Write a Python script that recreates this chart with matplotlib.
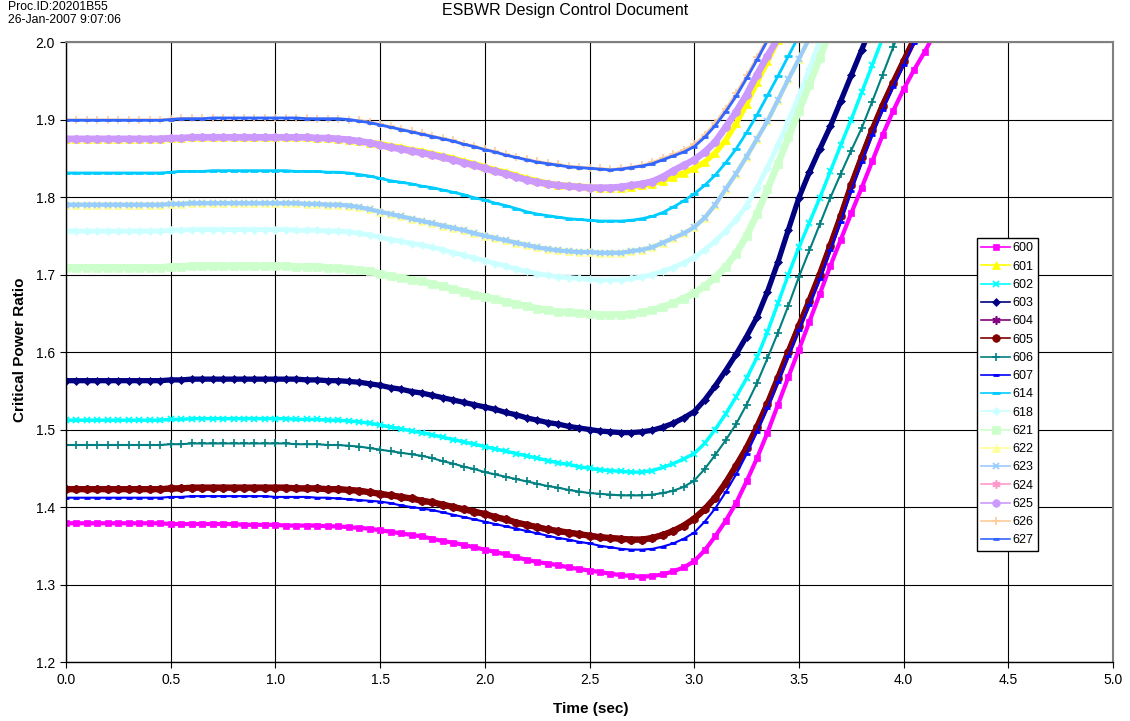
import numpy as np
import matplotlib
matplotlib.use("Agg")
import matplotlib.pyplot as plt
from matplotlib.lines import Line2D

plt.rcParams['font.family'] = ['Liberation Sans', 'DejaVu Sans']

# sample time, sec (one point every 0.05 s)
time_s = np.round(np.arange(0.0, 4.16, 0.05), 2)

# critical power ratio per case, rows of 10 samples (0.0-0.45, 0.5-0.95, ...)
cpr600 = [1.379, 1.379, 1.379, 1.379, 1.379, 1.379, 1.379, 1.379, 1.379, 1.379,
          1.378, 1.378, 1.378, 1.378, 1.378, 1.378, 1.378, 1.377, 1.377, 1.377,
          1.377, 1.376, 1.376, 1.376, 1.376, 1.375, 1.375, 1.374, 1.373, 1.372,
          1.370, 1.368, 1.366, 1.364, 1.362, 1.359, 1.356, 1.354, 1.351, 1.348,
          1.345, 1.342, 1.339, 1.335, 1.332, 1.329, 1.327, 1.325, 1.322, 1.320,
          1.318, 1.316, 1.314, 1.312, 1.311, 1.310, 1.311, 1.313, 1.317, 1.322,
          1.330, 1.344, 1.362, 1.382, 1.405, 1.433, 1.463, 1.496, 1.532, 1.568,
          1.603, 1.639, 1.675, 1.711, 1.745, 1.779, 1.812, 1.846, 1.880, 1.911,
          1.939, 1.964, 1.987, 2.012]
cpr601 = [1.875, 1.875, 1.875, 1.875, 1.875, 1.875, 1.875, 1.875, 1.875, 1.875,
          1.876, 1.876, 1.877, 1.877, 1.877, 1.877, 1.877, 1.877, 1.877, 1.877,
          1.877, 1.877, 1.877, 1.877, 1.876, 1.876, 1.875, 1.874, 1.872, 1.870,
          1.869, 1.866, 1.864, 1.861, 1.859, 1.856, 1.853, 1.850, 1.846, 1.843,
          1.839, 1.835, 1.832, 1.828, 1.824, 1.821, 1.818, 1.816, 1.815, 1.814,
          1.813, 1.812, 1.812, 1.812, 1.813, 1.815, 1.817, 1.821, 1.826, 1.831,
          1.837, 1.845, 1.857, 1.873, 1.895, 1.920, 1.948, 1.975, 2.003]
cpr602 = [1.512, 1.512, 1.512, 1.512, 1.512, 1.512, 1.512, 1.512, 1.512, 1.512,
          1.513, 1.513, 1.514, 1.514, 1.514, 1.514, 1.514, 1.514, 1.514, 1.514,
          1.514, 1.514, 1.513, 1.513, 1.513, 1.512, 1.512, 1.511, 1.510, 1.508,
          1.506, 1.503, 1.501, 1.498, 1.496, 1.493, 1.490, 1.487, 1.484, 1.481,
          1.478, 1.475, 1.472, 1.469, 1.466, 1.463, 1.460, 1.457, 1.455, 1.452,
          1.450, 1.448, 1.447, 1.446, 1.445, 1.445, 1.447, 1.451, 1.456, 1.462,
          1.469, 1.482, 1.500, 1.520, 1.542, 1.566, 1.593, 1.626, 1.663, 1.700,
          1.735, 1.767, 1.799, 1.833, 1.867, 1.900, 1.935, 1.970,
          2.005]
cpr603 = [1.563, 1.563, 1.563, 1.563, 1.563, 1.563, 1.563, 1.563, 1.563, 1.563,
          1.564, 1.564, 1.565, 1.565, 1.565, 1.565, 1.565, 1.565, 1.565, 1.565,
          1.565, 1.565, 1.565, 1.564, 1.564, 1.563, 1.563, 1.562, 1.561, 1.559,
          1.557, 1.554, 1.552, 1.549, 1.547, 1.544, 1.541, 1.538, 1.535, 1.532,
          1.529, 1.526, 1.522, 1.519, 1.515, 1.512, 1.509, 1.507, 1.504, 1.502,
          1.500, 1.498, 1.497, 1.496, 1.496, 1.497, 1.499, 1.503, 1.508, 1.515,
          1.523, 1.538, 1.556, 1.576, 1.597, 1.620, 1.645, 1.678, 1.716, 1.758,
          1.799, 1.832, 1.862, 1.891, 1.924, 1.957, 1.990, 2.023]
cpr605 = [1.423, 1.423, 1.423, 1.423, 1.423, 1.423, 1.423, 1.423, 1.423, 1.423,
          1.424, 1.424, 1.425, 1.425, 1.425, 1.425, 1.425, 1.425, 1.425, 1.425,
          1.425, 1.425, 1.424, 1.424, 1.424, 1.423, 1.423, 1.422, 1.421, 1.419,
          1.417, 1.415, 1.413, 1.411, 1.408, 1.406, 1.403, 1.400, 1.397, 1.394,
          1.391, 1.387, 1.384, 1.380, 1.377, 1.374, 1.371, 1.369, 1.367, 1.365,
          1.363, 1.361, 1.360, 1.359, 1.358, 1.358, 1.360, 1.364, 1.369, 1.376,
          1.385, 1.397, 1.412, 1.431, 1.453, 1.476, 1.503, 1.533, 1.566, 1.600,
          1.633, 1.666, 1.700, 1.737, 1.775, 1.815, 1.851, 1.886, 1.918, 1.947,
          1.975, 2.003]
cpr604 = list(cpr605)
cpr606 = [1.480, 1.480, 1.480, 1.480, 1.480, 1.480, 1.480, 1.480, 1.480, 1.480,
          1.481, 1.481, 1.482, 1.482, 1.482, 1.482, 1.482, 1.482, 1.482, 1.482,
          1.482, 1.482, 1.481, 1.481, 1.481, 1.480, 1.480, 1.479, 1.478, 1.476,
          1.474, 1.472, 1.470, 1.468, 1.466, 1.463, 1.459, 1.456, 1.452, 1.449,
          1.445, 1.442, 1.439, 1.436, 1.433, 1.430, 1.427, 1.425, 1.422, 1.420,
          1.418, 1.417, 1.416, 1.415, 1.415, 1.415, 1.416, 1.418, 1.421, 1.426,
          1.434, 1.449, 1.467, 1.486, 1.507, 1.532, 1.560, 1.592, 1.625, 1.660,
          1.697, 1.731, 1.765, 1.799, 1.830, 1.860, 1.889, 1.923, 1.958, 1.993,
          2.028]
cpr607 = [1.412, 1.412, 1.412, 1.412, 1.412, 1.412, 1.412, 1.412, 1.412, 1.412,
          1.413, 1.413, 1.414, 1.414, 1.414, 1.414, 1.414, 1.414, 1.414, 1.414,
          1.413, 1.413, 1.413, 1.413, 1.412, 1.412, 1.411, 1.410, 1.409, 1.408,
          1.407, 1.405, 1.402, 1.400, 1.398, 1.396, 1.393, 1.390, 1.387, 1.384,
          1.381, 1.378, 1.375, 1.372, 1.369, 1.366, 1.363, 1.360, 1.358, 1.355,
          1.353, 1.350, 1.348, 1.346, 1.345, 1.345, 1.346, 1.349, 1.353, 1.359,
          1.367, 1.381, 1.398, 1.419, 1.442, 1.468, 1.497, 1.528, 1.561, 1.595,
          1.628, 1.661, 1.694, 1.731, 1.768, 1.808, 1.845, 1.880, 1.912, 1.942,
          1.970, 1.999, 2.028]
cpr614 = [1.831, 1.831, 1.831, 1.831, 1.831, 1.831, 1.831, 1.831, 1.831, 1.831,
          1.832, 1.833, 1.833, 1.833, 1.834, 1.834, 1.834, 1.834, 1.834, 1.834,
          1.834, 1.834, 1.833, 1.833, 1.833, 1.832, 1.832, 1.831, 1.829, 1.827,
          1.824, 1.821, 1.819, 1.817, 1.814, 1.812, 1.809, 1.806, 1.803, 1.799,
          1.796, 1.792, 1.789, 1.785, 1.781, 1.778, 1.776, 1.774, 1.772, 1.771,
          1.770, 1.769, 1.769, 1.769, 1.770, 1.772, 1.775, 1.780, 1.787, 1.795,
          1.804, 1.815, 1.828, 1.844, 1.862, 1.883, 1.906, 1.931, 1.956, 1.982,
          2.008]
cpr618 = [1.756, 1.756, 1.756, 1.756, 1.756, 1.756, 1.756, 1.756, 1.756, 1.756,
          1.757, 1.757, 1.758, 1.758, 1.758, 1.758, 1.758, 1.758, 1.758, 1.758,
          1.758, 1.758, 1.757, 1.757, 1.757, 1.756, 1.756, 1.755, 1.753, 1.751,
          1.748, 1.745, 1.743, 1.740, 1.738, 1.735, 1.732, 1.728, 1.725, 1.721,
          1.718, 1.714, 1.711, 1.707, 1.704, 1.701, 1.699, 1.697, 1.696, 1.695,
          1.694, 1.693, 1.693, 1.693, 1.695, 1.697, 1.700, 1.704, 1.709, 1.715,
          1.722, 1.732, 1.743, 1.756, 1.771, 1.789, 1.812, 1.838, 1.867, 1.898,
          1.930, 1.965, 2.002]
cpr621 = [1.709, 1.709, 1.709, 1.709, 1.709, 1.709, 1.709, 1.709, 1.709, 1.709,
          1.710, 1.710, 1.711, 1.711, 1.711, 1.711, 1.711, 1.711, 1.711, 1.711,
          1.711, 1.711, 1.710, 1.710, 1.710, 1.709, 1.708, 1.707, 1.706, 1.704,
          1.701, 1.698, 1.696, 1.693, 1.691, 1.688, 1.685, 1.681, 1.678, 1.674,
          1.671, 1.668, 1.665, 1.662, 1.659, 1.656, 1.654, 1.652, 1.651, 1.650,
          1.649, 1.648, 1.648, 1.648, 1.649, 1.651, 1.654, 1.658, 1.663, 1.669,
          1.676, 1.685, 1.696, 1.710, 1.727, 1.750, 1.778, 1.810, 1.843, 1.877,
          1.911, 1.945, 1.980, 2.015]
cpr623 = [1.790, 1.790, 1.790, 1.790, 1.790, 1.790, 1.790, 1.790, 1.790, 1.790,
          1.791, 1.791, 1.792, 1.792, 1.792, 1.792, 1.792, 1.792, 1.792, 1.792,
          1.792, 1.792, 1.792, 1.791, 1.791, 1.790, 1.790, 1.789, 1.787, 1.784,
          1.781, 1.778, 1.775, 1.772, 1.769, 1.766, 1.763, 1.760, 1.757, 1.753,
          1.750, 1.747, 1.744, 1.741, 1.738, 1.735, 1.733, 1.731, 1.730, 1.729,
          1.729, 1.728, 1.728, 1.728, 1.730, 1.732, 1.735, 1.741, 1.747, 1.753,
          1.761, 1.773, 1.790, 1.810, 1.830, 1.852, 1.875, 1.898, 1.925, 1.952,
          1.978, 2.005]
cpr622 = list(cpr623)
cpr625 = [1.875, 1.875, 1.875, 1.875, 1.875, 1.875, 1.875, 1.875, 1.875, 1.875,
          1.876, 1.876, 1.877, 1.877, 1.877, 1.877, 1.877, 1.877, 1.877, 1.877,
          1.877, 1.877, 1.877, 1.877, 1.876, 1.876, 1.875, 1.874, 1.872, 1.870,
          1.867, 1.864, 1.862, 1.859, 1.857, 1.854, 1.851, 1.848, 1.844, 1.841,
          1.837, 1.833, 1.830, 1.826, 1.822, 1.819, 1.817, 1.815, 1.814, 1.813,
          1.812, 1.812, 1.812, 1.813, 1.815, 1.817, 1.820, 1.826, 1.834, 1.841,
          1.848, 1.858, 1.871, 1.890, 1.910, 1.932, 1.958, 1.982, 2.005]
cpr624 = list(cpr625)
cpr627 = [1.899, 1.899, 1.899, 1.899, 1.899, 1.899, 1.899, 1.899, 1.899, 1.899,
          1.900, 1.901, 1.901, 1.901, 1.902, 1.902, 1.902, 1.902, 1.902, 1.902,
          1.902, 1.902, 1.902, 1.901, 1.901, 1.901, 1.901, 1.900, 1.898, 1.896,
          1.893, 1.890, 1.887, 1.884, 1.881, 1.878, 1.875, 1.872, 1.868, 1.865,
          1.861, 1.858, 1.854, 1.851, 1.848, 1.845, 1.843, 1.841, 1.839, 1.838,
          1.837, 1.836, 1.835, 1.836, 1.838, 1.840, 1.843, 1.848, 1.853, 1.858,
          1.865, 1.877, 1.892, 1.910, 1.930, 1.953, 1.977, 2.002, 2.030]
cpr626 = [1.900, 1.900, 1.900, 1.900, 1.900, 1.900, 1.900, 1.900, 1.900, 1.900,
          1.901, 1.902, 1.902, 1.902, 1.902, 1.902, 1.902, 1.902, 1.902, 1.902,
          1.902, 1.902, 1.902, 1.902, 1.901, 1.901, 1.901, 1.900, 1.899, 1.897,
          1.894, 1.891, 1.888, 1.885, 1.882, 1.879, 1.876, 1.873, 1.869, 1.866,
          1.862, 1.859, 1.855, 1.852, 1.849, 1.846, 1.844, 1.842, 1.840, 1.839,
          1.838, 1.837, 1.836, 1.837, 1.839, 1.841, 1.845, 1.850, 1.855, 1.861,
          1.868, 1.880, 1.896, 1.914, 1.934, 1.957, 1.981, 2.006, 2.034]

case_names = ["600", "601", "602", "603", "604", "605", "606", "607", "614",
              "618", "621", "622", "623", "624", "625", "626", "627"]
case_data = [cpr600, cpr601, cpr602, cpr603, cpr604, cpr605, cpr606, cpr607, cpr614,
             cpr618, cpr621, cpr622, cpr623, cpr624, cpr625, cpr626, cpr627]

asterisk = (6, 2, 0)
# color, marker, marker size, marker edge width, width of the marker band
styles = {
    "600": ("#FF00FF", "s", 3.8, 0.5, 3.0),
    "601": ("#FFFF00", "^", 5.5, 0.5, 4.0),
    "602": ("#00FFFF", "x", 5.0, 1.3, 2.5),
    "603": ("#000080", "D", 4.2, 0.5, 3.8),
    "604": ("#800080", asterisk, 6.0, 1.2, 4.0),
    "605": ("#800000", "o", 5.5, 0.5, 4.5),
    "606": ("#008080", "+", 6.0, 1.2, 1.5),
    "607": ("#0000FF", "_", 4.0, 2.0, 1.5),
    "614": ("#00CCFF", "_", 5.5, 2.0, 2.0),
    "618": ("#CCFFFF", "D", 4.5, 0.5, 3.5),
    "621": ("#CCFFCC", "s", 5.5, 0.5, 5.0),
    "622": ("#FFFF99", "^", 5.5, 0.5, 3.5),
    "623": ("#99CCFF", "x", 5.0, 1.3, 3.0),
    "624": ("#FF99CC", asterisk, 6.0, 1.2, 4.0),
    "625": ("#CC99FF", "o", 5.5, 0.5, 4.8),
    "626": ("#FFCC99", "+", 6.0, 1.2, 1.5),
    "627": ("#3366FF", "_", 4.0, 2.0, 2.0),
}

fig = plt.figure(figsize=(11.3, 7.21), dpi=100)
ax = fig.add_axes([66 / 1130, 1 - 662 / 721, 1047 / 1130, 620 / 721])

handles = []
for name, vals in zip(case_names, case_data):
    color, marker, ms, mew, band = styles[name]
    tt = time_s[:len(vals)]
    ax.plot(tt, vals, color=color, lw=band, marker=marker, ms=ms, mew=mew,
            mfc=color, mec=color, solid_joinstyle='round')
    handles.append(Line2D([], [], color=color, lw=1.2, marker=marker, ms=ms,
                          mew=mew, mfc=color, mec=color, label=name))

ax.set_xlim(0, 5)
ax.set_ylim(1.2, 2.0)
ax.set_xticks(np.arange(0, 5.01, 0.5))
ax.set_yticks(np.arange(1.2, 2.001, 0.1))
ax.xaxis.set_major_formatter(plt.FormatStrFormatter('%.1f'))
ax.yaxis.set_major_formatter(plt.FormatStrFormatter('%.1f'))
ax.grid(True, color='black', lw=0.8)
ax.set_axisbelow(True)
ax.tick_params(direction='out', length=4, width=0.8, labelsize=10, pad=4)

for side in ['left', 'bottom']:
    ax.spines[side].set_color('black')
    ax.spines[side].set_linewidth(1.0)
for side in ['top', 'right']:
    ax.spines[side].set_color('#808080')
    ax.spines[side].set_linewidth(1.5)

ax.set_xlabel('Time (sec)', fontsize=11, fontweight='bold')
ax.set_ylabel('Critical Power Ratio', fontsize=11, fontweight='bold')
ax.xaxis.set_label_coords(0.501, -0.064)
ax.yaxis.set_label_coords(-0.037, 0.503)

leg = ax.legend(handles=handles, loc='upper left',
                bbox_to_anchor=(977 / 1130, 1 - 238 / 721),
                bbox_transform=fig.transFigure, fontsize=9, numpoints=1,
                frameon=True, fancybox=False, edgecolor='black', framealpha=1,
                borderpad=0.35, labelspacing=0.5, handlelength=2.3,
                handletextpad=0.2, borderaxespad=0)
leg.get_frame().set_linewidth(1.0)

fig.text(0.5, 1 - 11 / 721, 'ESBWR Design Control Document', ha='center',
         va='center', fontsize=11.5)
fig.text(8 / 1130, 1 - 7 / 721, 'Proc.ID:20201B55', ha='left', va='center',
         fontsize=8.8)
fig.text(8 / 1130, 1 - 20 / 721, '26-Jan-2007 9:07:06', ha='left', va='center',
         fontsize=8.8)

fig.savefig('out.png', dpi=100)
